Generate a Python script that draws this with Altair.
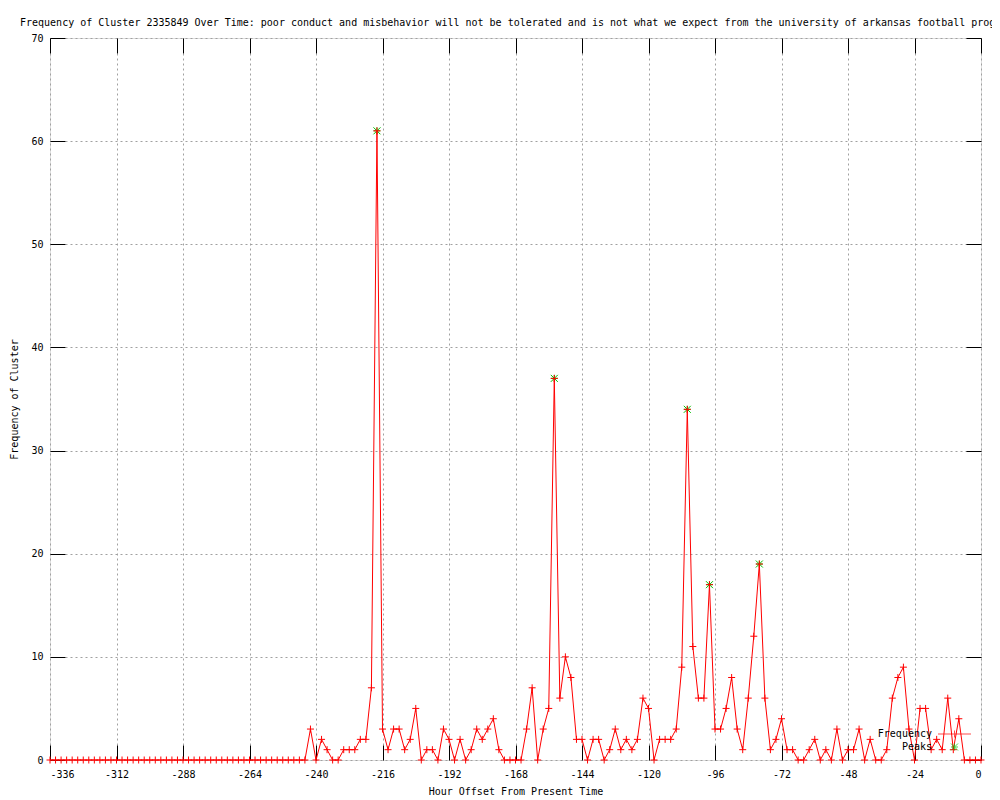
import altair as alt
import pandas as pd

TITLE = ("Frequency of Cluster 2335849 Over Time: poor conduct and misbehavior will not be "
         "tolerated and is not what we expect from the university of arkansas football program")
X_TITLE = "Hour Offset From Present Time"
Y_TITLE = "Frequency of Cluster"

# hour offsets, one sample every 2 hours
HOURS = list(range(-336, 1, 2))
COUNTS = [
    0, 0, 0, 0, 0, 0, 0, 0, 0, 0,
    0, 0, 0, 0, 0, 0, 0, 0, 0, 0,
    0, 0, 0, 0, 0, 0, 0, 0, 0, 0,
    0, 0, 0, 0, 0, 0, 0, 0, 0, 0,
    0, 0, 0, 0, 0, 0, 0,
    3, 0, 2, 1, 0, 0, 1, 1, 1, 2,
    2, 7, 61, 3, 1, 3, 3, 1, 2, 5,
    0, 1, 1, 0, 3, 2, 0, 2, 0, 1,
    3, 2, 3, 4, 1, 0, 0, 0, 0, 3,
    7, 0, 3, 5, 37, 6, 10, 8, 2, 2,
    0, 2, 2, 0, 1, 3, 1, 2, 1, 2,
    6, 5, 0, 2, 2, 2, 3, 9, 34, 11,
    6, 6, 17, 3, 3, 5, 8, 3, 1, 6,
    12, 19, 6, 1, 2, 4, 1, 1, 0, 0,
    1, 2, 0, 1, 0, 3, 0, 1, 1, 3,
    0, 2, 0, 0, 1, 6, 8, 9, 3, 0,
    5, 5, 1, 2, 1, 6, 1, 4, 0, 0,
    0, 0,
]
PEAK_HOURS = [-218, -154, -106, -98, -80]
PEAK_COUNTS = [61, 37, 34, 17, 19]

SERIES = ["Frequency", "Peaks"]
X_TICKS = list(range(-336, 1, 24))
Y_TICKS = list(range(0, 71, 10))

FONT = "DejaVu Sans Mono"
RED = "#ff0000"
GREEN = "#00c000"
GRID = "#a0a0a0"
W, H = 931, 722
TICK = 15

PLUS = "M-1,0H1M0,-1V1"
STAR = "M-1,0H1M0,-1V1M-1,-1L1,1M-1,1L1,-1"
# key samples, drawn to the right of the (right-aligned) key labels
KEY_FREQ = "M3.143,0H12.571M7.857,-1V1"
KEY_PEAK = "M6.857,0H8.857M7.857,-1V1M6.857,-1L8.857,1M6.857,1L8.857,-1"

freq_df = pd.DataFrame({"hour": HOURS, "count": COUNTS})
peak_df = pd.DataFrame({"hour": PEAK_HOURS, "count": PEAK_COUNTS})
key_df = pd.DataFrame({"key": SERIES})

xscale = alt.Scale(domain=[-336, 0], nice=False, zero=False)
yscale = alt.Scale(domain=[0, 70], nice=False)

LABEL_EXPR = "'' + datum.value"

# main axes (labels + dotted grid)
ax_x_main = alt.Axis(values=X_TICKS, labelExpr=LABEL_EXPR, ticks=False, tickSize=0, domain=False,
                     grid=True, gridColor=GRID, gridDash=[2, 3], gridWidth=1, gridOpacity=1,
                     labelFont=FONT, labelFontSize=10, labelColor="black", labelPadding=9,
                     title=X_TITLE, titleFont=FONT, titleFontSize=10, titleFontWeight="normal",
                     titleColor="black", titlePadding=7, orient="bottom")
ax_y_main = alt.Axis(values=Y_TICKS, labelExpr=LABEL_EXPR, ticks=False, tickSize=0, domain=False,
                     grid=True, gridColor=GRID, gridDash=[2, 3], gridWidth=1, gridOpacity=1,
                     labelFont=FONT, labelFontSize=10, labelColor="black", labelPadding=7,
                     title=Y_TITLE, titleFont=FONT, titleFontSize=10, titleFontWeight="normal",
                     titleColor="black", titlePadding=11, orient="left")


def tick_axis(values, orient, offset):
    return alt.Axis(values=values, orient=orient, offset=offset, labels=False, domain=False,
                    grid=False, ticks=True, tickSize=TICK, tickColor="black", tickWidth=1,
                    title=None)


ax_x_bot_in = tick_axis(X_TICKS, "top", -H)
ax_x_top_in = tick_axis(X_TICKS, "bottom", -H)
ax_y_left_in = tick_axis(Y_TICKS, "right", -W)
ax_y_right_in = tick_axis(Y_TICKS, "left", -W)

key_legend = alt.Legend(
    title=None, orient="none", legendX=872, legendY=691, padding=0,
    labelFont=FONT, labelFontSize=10, labelColor="black", labelAlign="right",
    labelOffset=0, symbolOffset=0, symbolSize=49, symbolStrokeWidth=1, rowPadding=1,
)

peaks_layer = alt.Chart(peak_df).mark_point(
    filled=False, size=49, strokeWidth=1, opacity=1, shape=STAR, color=GREEN
).encode(
    x=alt.X("hour:Q", scale=xscale, axis=ax_x_bot_in),
    y=alt.Y("count:Q", scale=yscale, axis=ax_y_left_in),
)

line_layer = alt.Chart(freq_df).mark_line(color=RED, strokeWidth=1).encode(
    x=alt.X("hour:Q", scale=xscale, axis=ax_x_main),
    y=alt.Y("count:Q", scale=yscale, axis=ax_y_main),
)

points_layer = alt.Chart(freq_df).mark_point(
    filled=False, size=49, strokeWidth=1, opacity=1, shape=PLUS, color=RED
).encode(
    x=alt.X("hour:Q", scale=xscale, axis=ax_x_top_in),
    y=alt.Y("count:Q", scale=yscale, axis=ax_y_right_in),
)

key_layer = alt.Chart(key_df).mark_point(filled=False, size=0).encode(
    color=alt.Color("key:N", scale=alt.Scale(domain=SERIES, range=[RED, GREEN]), legend=key_legend),
    shape=alt.Shape("key:N", scale=alt.Scale(domain=SERIES, range=[KEY_FREQ, KEY_PEAK]),
                    legend=key_legend),
).transform_filter("false")

chart = alt.layer(peaks_layer, line_layer, points_layer, key_layer).resolve_axis(
    x="independent", y="independent"
).properties(
    width=W, height=H,
    title=alt.Title(text=TITLE, anchor="start", frame="group", dx=-30, dy=18, offset=15,
                    font=FONT, fontSize=10, fontWeight="normal", color="black",
                    baseline="alphabetic"),
    autosize=alt.AutoSizeParams(type="none"),
    padding={"left": 42, "top": 30, "right": 11, "bottom": 40},
).configure_view(stroke="black", strokeWidth=1).configure(background="white")

chart.save("out.html", embed_options={"renderer": "svg", "actions": False})
